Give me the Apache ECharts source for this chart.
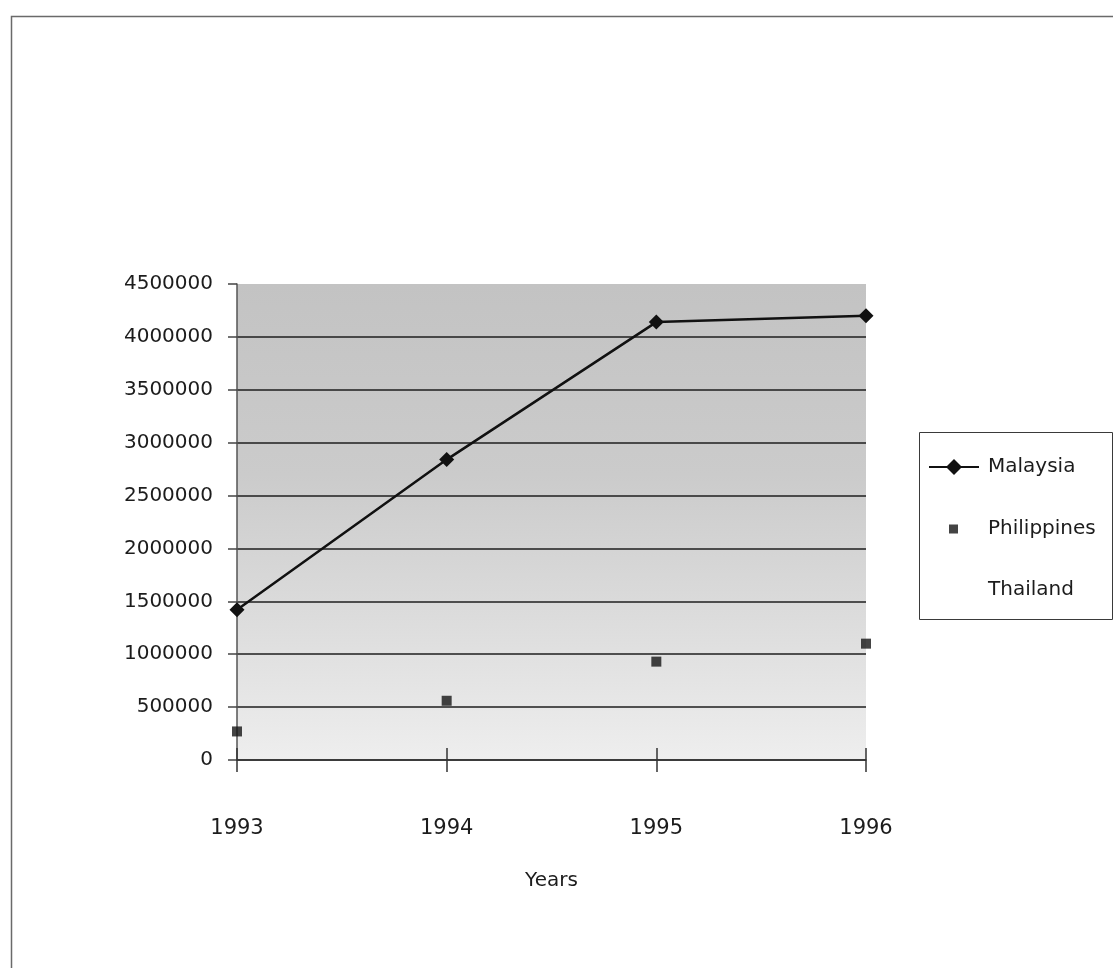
<!DOCTYPE html>
<html>
<head>
<meta charset="utf-8">
<title>Malaysia, Philippines, Thailand 1993-1996</title>
<script src="https://cdn.jsdelivr.net/npm/echarts@6/dist/echarts.min.js"></script>
<style>
  html, body { margin: 0; padding: 0; background: #ffffff; }
  #chart { width: 1113px; height: 968px; }
</style>
</head>
<body>
<div id="chart"></div>
<script>
// Yearly figures per country
const years = ['1993', '1994', '1995', '1996'];
const malaysia = [1420000, 2840000, 4140000, 4200000];
const philippines = [270000, 560000, 930000, 1100000];
const thailand = [null, null, null, null];

// Value axis range
const yMin = 0;
const yMax = 4500000;
const yStep = 500000;

const FONT = 'DejaVu Sans';
const INK = '#1c1c1c';

const chart = echarts.init(document.getElementById('chart'), null, { renderer: 'canvas' });

const gridPos = { left: 237, right: 247, top: 284, bottom: 208 };

chart.setOption({
  backgroundColor: '#ffffff',
  animation: false,
  grid: Object.assign({
    show: true,
    borderWidth: 0,
    backgroundColor: new echarts.graphic.LinearGradient(0, 0, 0, 1, [
      { offset: 0, color: '#c3c3c3' },
      { offset: 0.4, color: '#cbcbcb' },
      { offset: 0.7, color: '#dcdcdc' },
      { offset: 1, color: '#eeeeee' }
    ])
  }, gridPos),
  xAxis: [
    {
      type: 'category',
      data: years,
      boundaryGap: false,
      position: 'bottom',
      name: 'Years',
      nameLocation: 'middle',
      nameGap: 111,
      nameTextStyle: { fontFamily: FONT, fontSize: 20, color: INK },
      axisLine: { show: true, lineStyle: { color: '#333', width: 1.5 } },
      axisTick: { show: true, inside: false, length: 12, lineStyle: { color: '#333', width: 1.5 } },
      axisLabel: { fontFamily: FONT, fontSize: 21, color: INK, margin: 58 },
      splitLine: { show: false }
    },
    {
      // inner half of the crossing tick marks
      type: 'category',
      data: years,
      boundaryGap: false,
      position: 'bottom',
      offset: 0,
      axisLine: { show: false },
      axisTick: { show: true, inside: true, length: 12, lineStyle: { color: '#333', width: 1.5 } },
      axisLabel: { show: false },
      splitLine: { show: false }
    }
  ],
  yAxis: {
    type: 'value',
    min: yMin,
    max: yMax,
    interval: yStep,
    axisLine: { show: true, lineStyle: { color: '#555', width: 1.5 } },
    axisTick: { show: true, inside: false, length: 9, lineStyle: { color: '#444', width: 1.5 } },
    axisLabel: {
      fontFamily: FONT, fontSize: 20, color: INK, margin: 24,
      formatter: function (v) { return String(v); }
    },
    splitLine: { show: true, showMaxLine: false, lineStyle: { color: '#1e1e1e', width: 1.5 } }
  },
  legend: [
    {
      data: ['Malaysia'],
      orient: 'vertical',
      left: 928,
      top: 457,
      padding: 0,
      itemWidth: 50,
      itemHeight: 20,
      itemGap: 0,
      selectedMode: false,
      textStyle: { fontFamily: FONT, fontSize: 20, color: INK, lineHeight: 20, padding: [0, 0, 0, 4] }
    },
    {
      data: ['Philippines', 'Thailand'],
      orient: 'vertical',
      left: 948,
      top: 519,
      padding: 0,
      itemWidth: 9,
      itemHeight: 9,
      itemGap: 41,
      selectedMode: false,
      textStyle: { fontFamily: FONT, fontSize: 20, color: INK, lineHeight: 20, padding: [0, 0, 0, 25] }
    }
  ],
  graphic: [
    // outer frame of the page
    {
      type: 'rect',
      left: 9, top: 14,
      shape: { width: 1200, height: 1000 },
      style: { fill: 'none', stroke: '#6a6a6a', lineWidth: 1.5 },
      silent: true
    },
    // legend box
    {
      type: 'rect',
      left: 917, top: 430,
      shape: { width: 193, height: 187 },
      style: { fill: 'none', stroke: '#3a3a3a', lineWidth: 1 },
      silent: true
    }
  ],
  series: [
    {
      name: 'Malaysia',
      type: 'line',
      data: malaysia,
      symbol: 'diamond',
      symbolSize: 15,
      itemStyle: { color: '#111' },
      lineStyle: { color: '#111', width: 2.5 },
      z: 5
    },
    {
      name: 'Philippines',
      type: 'scatter',
      data: philippines,
      symbol: 'rect',
      symbolSize: 10,
      itemStyle: { color: '#151515' },
      z: 5
    },
    {
      name: 'Thailand',
      type: 'line',
      data: thailand,
      symbol: 'none',
      itemStyle: { color: '#ffffff', opacity: 0 },
      lineStyle: { opacity: 0 }
    }
  ]
});
</script>
</body>
</html>
